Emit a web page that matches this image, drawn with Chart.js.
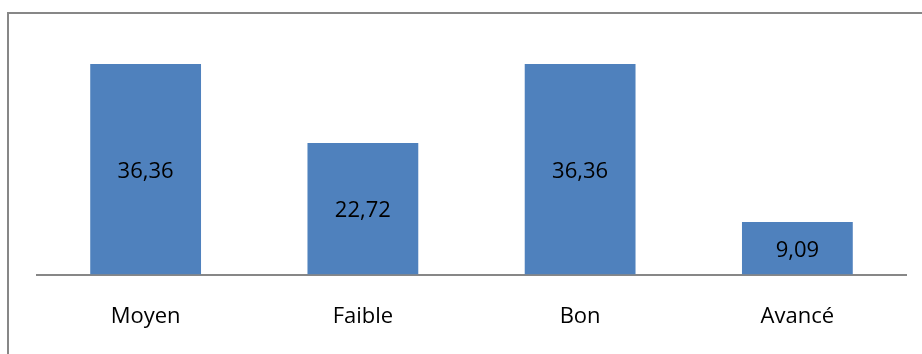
<!DOCTYPE html>
<html lang="fr">
<head>
    <meta charset="UTF-8" />
    <title>Niveaux</title>
    <style>
        html, body {
            margin: 0;
            padding: 0;
            width: 922px;
            height: 354px;
            background: #fff;
            overflow: hidden;
        }
        .frame {
            position: absolute;
            left: 7px;
            top: 12px;
            width: 960px;
            height: 400px;
            border: 2px solid #878787;
        }
        #chart {
            position: absolute;
            left: 0;
            top: 0;
        }
    </style>
    <script src="https://cdn.jsdelivr.net/npm/chart.js"></script>
</head>
<body>
    <div class="frame"></div>
    <canvas id="chart" width="922" height="354"></canvas>
    <script>
        const categories = ['Moyen', 'Faible', 'Bon', 'Avancé'];
        const percentages = [36.36, 22.72, 36.36, 9.09];

        // writes each value in the middle of its bar, French decimal comma
        const barValues = {
            id: 'barValues',
            afterDatasetsDraw(chart) {
                const ctx = chart.ctx;
                const meta = chart.getDatasetMeta(0);
                ctx.save();
                ctx.font = '22px "Open Sans"';
                ctx.fillStyle = '#000';
                ctx.textAlign = 'center';
                ctx.textBaseline = 'middle';
                meta.data.forEach((bar, i) => {
                    const y = (bar.y + bar.base) / 2 + 2;
                    ctx.fillText(percentages[i].toFixed(2).replace('.', ','), bar.x, y);
                });
                ctx.restore();
            }
        };

        new Chart(document.getElementById('chart'), {
            type: 'bar',
            data: {
                labels: categories,
                datasets: [{
                    data: percentages,
                    backgroundColor: '#4F81BD',
                    borderWidth: 0,
                    categoryPercentage: 1,
                    barPercentage: 0.51
                }]
            },
            options: {
                responsive: false,
                animation: false,
                layout: {
                    padding: { left: 37, right: 16, top: 43, bottom: -5 }
                },
                plugins: {
                    legend: { display: false },
                    tooltip: { enabled: false }
                },
                scales: {
                    x: {
                        grid: { display: false, drawTicks: false },
                        border: { color: '#878787', width: 2 },
                        ticks: {
                            color: '#000',
                            padding: 29,
                            font: { family: 'Open Sans', size: 22 }
                        }
                    },
                    y: {
                        display: false,
                        min: 0,
                        max: 40
                    }
                }
            },
            plugins: [barValues]
        });
    </script>
</body>
</html>
